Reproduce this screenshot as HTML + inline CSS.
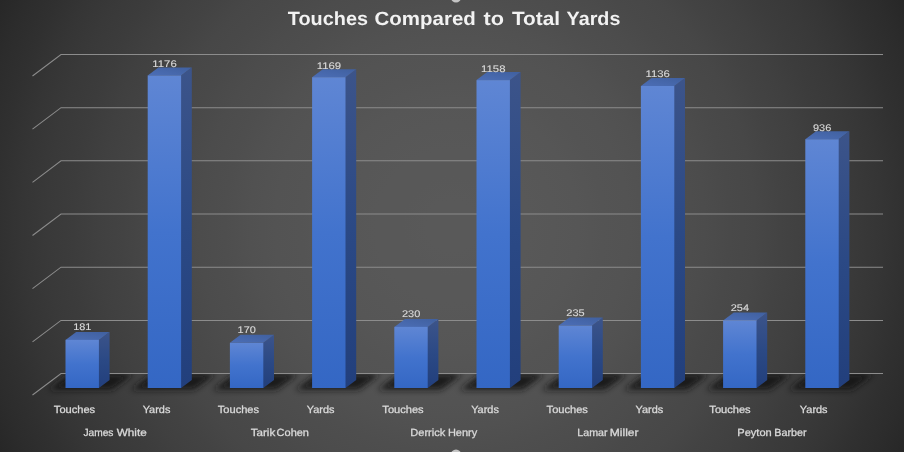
<!DOCTYPE html>
<html lang="en"><head><meta charset="utf-8"><title>Touches Compared to Total Yards</title>
<style>
html,body{margin:0;padding:0;background:#272727;}
body{width:904px;height:452px;overflow:hidden;font-family:"Liberation Sans",sans-serif;}
svg{display:block;will-change:transform}
text{font-family:"Liberation Sans",sans-serif;text-rendering:geometricPrecision;}
.lab{font-size:10.4px;fill:#d9d9d9;stroke:#d9d9d9;stroke-width:0.3px}
.val{font-size:9.6px;fill:#d9d9d9;stroke:#d9d9d9;stroke-width:0.12px}
.ttl{font-size:19.1px;font-weight:bold;fill:#f2f2f2}
</style></head><body>
<svg width="904" height="452" viewBox="0 0 904 452">
<defs>
<radialGradient id="bg" gradientUnits="userSpaceOnUse" cx="452" cy="226" r="505.4">
<stop offset="0.00" stop-color="#595959"/><stop offset="0.05" stop-color="#595959"/><stop offset="0.10" stop-color="#585858"/><stop offset="0.15" stop-color="#585858"/><stop offset="0.20" stop-color="#575757"/><stop offset="0.25" stop-color="#565656"/><stop offset="0.30" stop-color="#545454"/><stop offset="0.35" stop-color="#535353"/><stop offset="0.40" stop-color="#515151"/><stop offset="0.45" stop-color="#4e4e4e"/><stop offset="0.50" stop-color="#4c4c4c"/><stop offset="0.55" stop-color="#494949"/><stop offset="0.60" stop-color="#474747"/><stop offset="0.65" stop-color="#434343"/><stop offset="0.70" stop-color="#404040"/><stop offset="0.75" stop-color="#3c3c3c"/><stop offset="0.80" stop-color="#393939"/><stop offset="0.85" stop-color="#353535"/><stop offset="0.90" stop-color="#303030"/><stop offset="0.95" stop-color="#2c2c2c"/><stop offset="1.00" stop-color="#272727"/>
</radialGradient>
<linearGradient id="fr" x1="0" y1="0" x2="0" y2="1">
<stop offset="0" stop-color="#5f86d4"/><stop offset="0.5" stop-color="#4273cd"/><stop offset="1" stop-color="#3467c4"/>
</linearGradient>
<linearGradient id="sd" x1="0" y1="0" x2="0" y2="1">
<stop offset="0" stop-color="#3c548a"/><stop offset="0.5" stop-color="#2b4985"/><stop offset="1" stop-color="#223f7c"/>
</linearGradient>
<linearGradient id="tp" x1="0" y1="1" x2="1" y2="0">
<stop offset="0" stop-color="#4c6eb6"/><stop offset="1" stop-color="#40609f"/>
</linearGradient>
<filter id="bl" x="-50%" y="-100%" width="200%" height="300%"><feGaussianBlur stdDeviation="3.0"/></filter>
</defs>
<rect width="904" height="452" fill="url(#bg)"/>

<circle cx="456" cy="-2.7" r="5.2" fill="#c4c4c4"/><circle cx="456" cy="454.6" r="5.2" fill="#c4c4c4"/>
<polyline points="883.0,54.5 61.0,54.5 32.5,76.0" fill="none" stroke="#8c8c8c" stroke-width="1.05"/>
<polyline points="883.0,107.7 61.0,107.7 32.5,129.2" fill="none" stroke="#8c8c8c" stroke-width="1.05"/>
<polyline points="883.0,160.8 61.0,160.8 32.5,182.3" fill="none" stroke="#8c8c8c" stroke-width="1.05"/>
<polyline points="883.0,214.0 61.0,214.0 32.5,235.5" fill="none" stroke="#8c8c8c" stroke-width="1.05"/>
<polyline points="883.0,267.2 61.0,267.2 32.5,288.7" fill="none" stroke="#8c8c8c" stroke-width="1.05"/>
<polyline points="883.0,320.4 61.0,320.4 32.5,341.9" fill="none" stroke="#8c8c8c" stroke-width="1.05"/>
<clipPath id="fl"><rect x="0" y="373.2" width="904" height="40"/></clipPath>
<g clip-path="url(#fl)"><g filter="url(#bl)" fill="#191919" opacity="0.9">
<polygon points="48.5,389.8 111.9,389.8 133.9,374.0 70.5,374.0"/>
<polygon points="130.7,389.8 194.1,389.8 216.1,374.0 152.7,374.0"/>
<polygon points="212.9,389.8 276.3,389.8 298.3,374.0 234.9,374.0"/>
<polygon points="295.1,389.8 358.5,389.8 380.5,374.0 317.1,374.0"/>
<polygon points="377.3,389.8 440.7,389.8 462.7,374.0 399.3,374.0"/>
<polygon points="459.5,389.8 522.9,389.8 544.9,374.0 481.5,374.0"/>
<polygon points="541.7,389.8 605.1,389.8 627.1,374.0 563.7,374.0"/>
<polygon points="623.9,389.8 687.3,389.8 709.3,374.0 645.9,374.0"/>
<polygon points="706.1,389.8 769.5,389.8 791.5,374.0 728.1,374.0"/>
<polygon points="788.3,389.8 851.7,389.8 873.7,374.0 810.3,374.0"/>
</g></g>
<polyline points="883.0,373.5 61.0,373.5 32.5,395.0" fill="none" stroke="#8c8c8c" stroke-width="1.05"/>
<polygon points="97.9,339.9 98.9,339.9 109.6,331.9 109.6,380.0 98.9,388.0 97.9,388.0" fill="url(#sd)"/>
<polygon points="65.5,339.9 98.9,339.9 109.6,331.9 76.2,331.9" fill="url(#tp)"/>
<rect x="65.5" y="339.9" width="33.4" height="48.1" fill="url(#fr)"/>
<text class="val" x="73.15" y="330.4" textLength="18.30" lengthAdjust="spacingAndGlyphs">181</text>
<polygon points="180.1,75.4 181.1,75.4 191.8,67.4 191.8,380.0 181.1,388.0 180.1,388.0" fill="url(#sd)"/>
<polygon points="147.7,75.4 181.1,75.4 191.8,67.4 158.4,67.4" fill="url(#tp)"/>
<rect x="147.7" y="75.4" width="33.4" height="312.6" fill="url(#fr)"/>
<text class="val" x="152.30" y="66.8" textLength="24.40" lengthAdjust="spacingAndGlyphs">1176</text>
<polygon points="262.3,342.8 263.3,342.8 274.0,334.8 274.0,380.0 263.3,388.0 262.3,388.0" fill="url(#sd)"/>
<polygon points="229.9,342.8 263.3,342.8 274.0,334.8 240.6,334.8" fill="url(#tp)"/>
<rect x="229.9" y="342.8" width="33.4" height="45.2" fill="url(#fr)"/>
<text class="val" x="237.55" y="333.3" textLength="18.30" lengthAdjust="spacingAndGlyphs">170</text>
<polygon points="344.5,77.2 345.5,77.2 356.2,69.2 356.2,380.0 345.5,388.0 344.5,388.0" fill="url(#sd)"/>
<polygon points="312.1,77.2 345.5,77.2 356.2,69.2 322.8,69.2" fill="url(#tp)"/>
<rect x="312.1" y="77.2" width="33.4" height="310.8" fill="url(#fr)"/>
<text class="val" x="316.70" y="68.6" textLength="24.40" lengthAdjust="spacingAndGlyphs">1169</text>
<polygon points="426.7,326.9 427.7,326.9 438.4,318.9 438.4,380.0 427.7,388.0 426.7,388.0" fill="url(#sd)"/>
<polygon points="394.3,326.9 427.7,326.9 438.4,318.9 405.0,318.9" fill="url(#tp)"/>
<rect x="394.3" y="326.9" width="33.4" height="61.1" fill="url(#fr)"/>
<text class="val" x="401.95" y="317.4" textLength="18.30" lengthAdjust="spacingAndGlyphs">230</text>
<polygon points="508.9,80.1 509.9,80.1 520.6,72.1 520.6,380.0 509.9,388.0 508.9,388.0" fill="url(#sd)"/>
<polygon points="476.5,80.1 509.9,80.1 520.6,72.1 487.2,72.1" fill="url(#tp)"/>
<rect x="476.5" y="80.1" width="33.4" height="307.9" fill="url(#fr)"/>
<text class="val" x="481.10" y="71.5" textLength="24.40" lengthAdjust="spacingAndGlyphs">1158</text>
<polygon points="591.1,325.5 592.1,325.5 602.8,317.5 602.8,380.0 592.1,388.0 591.1,388.0" fill="url(#sd)"/>
<polygon points="558.7,325.5 592.1,325.5 602.8,317.5 569.4,317.5" fill="url(#tp)"/>
<rect x="558.7" y="325.5" width="33.4" height="62.5" fill="url(#fr)"/>
<text class="val" x="566.35" y="316.0" textLength="18.30" lengthAdjust="spacingAndGlyphs">235</text>
<polygon points="673.3,86.0 674.3,86.0 685.0,78.0 685.0,380.0 674.3,388.0 673.3,388.0" fill="url(#sd)"/>
<polygon points="640.9,86.0 674.3,86.0 685.0,78.0 651.6,78.0" fill="url(#tp)"/>
<rect x="640.9" y="86.0" width="33.4" height="302.0" fill="url(#fr)"/>
<text class="val" x="645.50" y="77.4" textLength="24.40" lengthAdjust="spacingAndGlyphs">1136</text>
<polygon points="755.5,320.5 756.5,320.5 767.2,312.5 767.2,380.0 756.5,388.0 755.5,388.0" fill="url(#sd)"/>
<polygon points="723.1,320.5 756.5,320.5 767.2,312.5 733.8,312.5" fill="url(#tp)"/>
<rect x="723.1" y="320.5" width="33.4" height="67.5" fill="url(#fr)"/>
<text class="val" x="730.75" y="311.0" textLength="18.30" lengthAdjust="spacingAndGlyphs">254</text>
<polygon points="837.7,139.2 838.7,139.2 849.4,131.2 849.4,380.0 838.7,388.0 837.7,388.0" fill="url(#sd)"/>
<polygon points="805.3,139.2 838.7,139.2 849.4,131.2 816.0,131.2" fill="url(#tp)"/>
<rect x="805.3" y="139.2" width="33.4" height="248.8" fill="url(#fr)"/>
<text class="val" x="812.95" y="130.6" textLength="18.30" lengthAdjust="spacingAndGlyphs">936</text>
<text class="lab" x="53.85" y="413.4" textLength="41.30" lengthAdjust="spacingAndGlyphs">Touches</text>
<text class="lab" x="142.65" y="413.4" textLength="27.70" lengthAdjust="spacingAndGlyphs">Yards</text>
<text class="lab" x="217.75" y="413.4" textLength="41.30" lengthAdjust="spacingAndGlyphs">Touches</text>
<text class="lab" x="306.75" y="413.4" textLength="27.70" lengthAdjust="spacingAndGlyphs">Yards</text>
<text class="lab" x="382.35" y="413.4" textLength="41.30" lengthAdjust="spacingAndGlyphs">Touches</text>
<text class="lab" x="471.15" y="413.4" textLength="27.70" lengthAdjust="spacingAndGlyphs">Yards</text>
<text class="lab" x="546.60" y="413.4" textLength="41.30" lengthAdjust="spacingAndGlyphs">Touches</text>
<text class="lab" x="635.55" y="413.4" textLength="27.70" lengthAdjust="spacingAndGlyphs">Yards</text>
<text class="lab" x="709.35" y="413.4" textLength="41.30" lengthAdjust="spacingAndGlyphs">Touches</text>
<text class="lab" x="799.85" y="413.4" textLength="27.70" lengthAdjust="spacingAndGlyphs">Yards</text>
<text class="lab" y="436.4"><tspan x="83.40" textLength="30.00" lengthAdjust="spacingAndGlyphs">James</tspan> <tspan x="116.70" textLength="30.00" lengthAdjust="spacingAndGlyphs">White</tspan></text>
<text class="lab" y="436.4"><tspan x="250.70" textLength="24.60" lengthAdjust="spacingAndGlyphs">Tarik</tspan> <tspan x="276.60" textLength="32.40" lengthAdjust="spacingAndGlyphs">Cohen</tspan></text>
<text class="lab" y="436.4"><tspan x="410.25" textLength="35.05" lengthAdjust="spacingAndGlyphs">Derrick</tspan> <tspan x="447.90" textLength="29.30" lengthAdjust="spacingAndGlyphs">Henry</tspan></text>
<text class="lab" y="436.4"><tspan x="577.30" textLength="30.20" lengthAdjust="spacingAndGlyphs">Lamar</tspan> <tspan x="609.80" textLength="28.80" lengthAdjust="spacingAndGlyphs">Miller</tspan></text>
<text class="lab" y="436.4"><tspan x="737.30" textLength="34.40" lengthAdjust="spacingAndGlyphs">Peyton</tspan> <tspan x="774.20" textLength="32.40" lengthAdjust="spacingAndGlyphs">Barber</tspan></text>
<text class="ttl" y="25.4">
<tspan x="287.80" textLength="80.20" lengthAdjust="spacingAndGlyphs">Touches</tspan> 
<tspan x="374.60" textLength="101.20" lengthAdjust="spacingAndGlyphs">Compared</tspan> 
<tspan x="483.50" textLength="20.50" lengthAdjust="spacingAndGlyphs">to</tspan> 
<tspan x="511.90" textLength="48.10" lengthAdjust="spacingAndGlyphs">Total</tspan> 
<tspan x="566.60" textLength="53.80" lengthAdjust="spacingAndGlyphs">Yards</tspan>
</text>
</svg></body></html>
